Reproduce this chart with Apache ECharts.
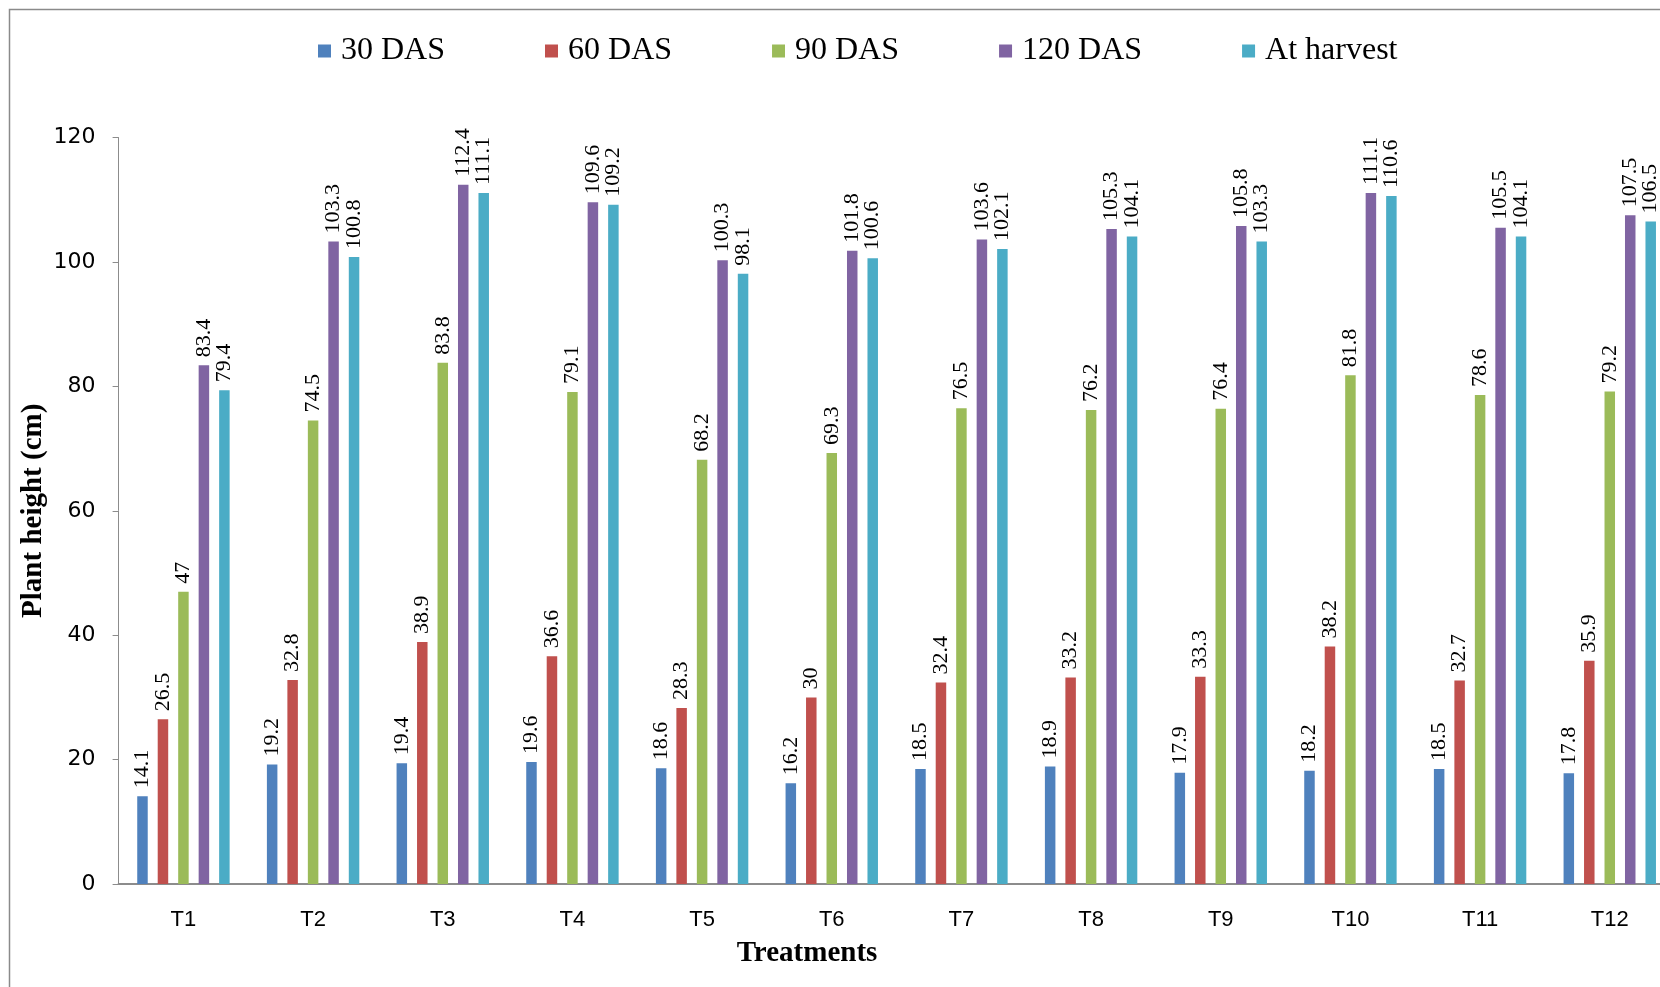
<!DOCTYPE html>
<html>
<head>
<meta charset="utf-8">
<script src="https://cdn.jsdelivr.net/npm/echarts@6/dist/echarts.min.js"></script>
<style>
  html, body { margin: 0; padding: 0; background: #fff; }
  #chart { width: 1660px; height: 987px; }
</style>
</head>
<body>
<div id="chart"></div>
<script>
// Plant height (cm) per treatment at each sampling stage
const treatments = ['T1','T2','T3','T4','T5','T6','T7','T8','T9','T10','T11','T12'];
const seriesNames = ['30 DAS', '60 DAS', '90 DAS', '120 DAS', 'At harvest'];
const das30   = [14.1, 19.2, 19.4, 19.6, 18.6, 16.2, 18.5, 18.9, 17.9, 18.2, 18.5, 17.8];
const das60   = [26.5, 32.8, 38.9, 36.6, 28.3, 30, 32.4, 33.2, 33.3, 38.2, 32.7, 35.9];
const das90   = [47, 74.5, 83.8, 79.1, 68.2, 69.3, 76.5, 76.2, 76.4, 81.8, 78.6, 79.2];
const das120  = [83.4, 103.3, 112.4, 109.6, 100.3, 101.8, 103.6, 105.3, 105.8, 111.1, 105.5, 107.5];
const harvest = [79.4, 100.8, 111.1, 109.2, 98.1, 100.6, 102.1, 104.1, 103.3, 110.6, 104.1, 106.5];
const yTicks = [0, 20, 40, 60, 80, 100, 120];

const colors = ['#4F81BD', '#C0504D', '#9BBB59', '#8064A2', '#4BACC6'];
const values = [das30, das60, das90, das120, harvest];

const serif = '"Liberation Serif", "Times New Roman", serif';

const chart = echarts.init(document.getElementById('chart'));

const series = seriesNames.map((name, i) => ({
  name: name,
  type: 'bar',
  data: values[i],
  barWidth: 10.5,
  barGap: '95%',
  itemStyle: { color: colors[i] },
  label: {
    show: true,
    position: 'top',
    rotate: 90,
    align: 'left',
    verticalAlign: 'middle',
    distance: 8,
    fontFamily: serif,
    fontSize: 22,
    color: '#000'
  }
}));

chart.setOption({
  animation: false,
  backgroundColor: '#fff',
  color: colors,
  graphic: [{
    type: 'rect',
    left: 7, top: 7,
    shape: { width: 1700, height: 1000 },
    style: { fill: 'none', stroke: '#8a8a8a', lineWidth: 1.5 },
    silent: true,
    z: -1
  }, {
    // x-axis title, centred under the visible part of the plot
    type: 'text',
    x: 807, y: 954,
    style: {
      text: 'Treatments',
      x: 0, y: 0,
      align: 'center',
      verticalAlign: 'middle',
      font: 'bold 29px "Liberation Serif", "Times New Roman", serif',
      fill: '#000'
    }
  }],
  legend: {
    data: seriesNames,
    left: 313,
    top: 30,
    itemWidth: 13,
    itemHeight: 13,
    itemGap: 100,
    icon: 'rect',
    textStyle: {
      fontFamily: serif,
      fontSize: 32,
      color: '#000',
      lineHeight: 32,
      padding: [0, 0, 0, 5]
    }
  },
  grid: {
    left: 118.6,
    top: 137.6,
    bottom: 103,
    right: -14.6,
    outerBoundsMode: 'none',
    containLabel: false
  },
  xAxis: {
    type: 'category',
    data: treatments,
    axisLine: { lineStyle: { color: '#8c8c8c', width: 2 } },
    axisTick: { show: false },
    axisLabel: {
      margin: 25,
      fontFamily: '"Liberation Sans Narrow", "Liberation Sans", sans-serif',
      fontSize: 22,
      color: '#000'
    }
  },
  yAxis: {
    type: 'value',
    min: yTicks[0],
    max: yTicks[yTicks.length - 1],
    interval: yTicks[1] - yTicks[0],
    name: 'Plant height (cm)',
    nameLocation: 'middle',
    nameGap: 71,
    nameMoveOverlap: false,
    nameRotate: 90,
    nameTextStyle: {
      fontFamily: serif,
      fontWeight: 'bold',
      fontSize: 29,
      color: '#000'
    },
    axisLine: { show: true, lineStyle: { color: '#8c8c8c', width: 1 } },
    axisTick: { show: true, inside: false, length: 6, lineStyle: { color: '#8c8c8c' } },
    splitLine: { show: false },
    axisLabel: {
      margin: 23,
      fontFamily: '"DejaVu Sans", sans-serif',
      fontSize: 22,
      color: '#000'
    }
  },
  series: series
});
</script>
</body>
</html>
